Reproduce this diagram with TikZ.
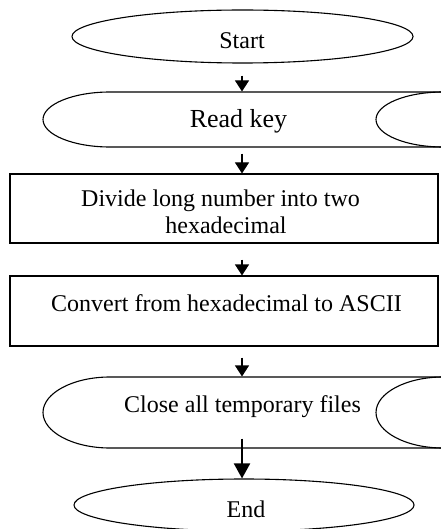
\documentclass[tikz,border=0pt]{standalone}
\usepackage{fontspec}
\setmainfont{Liberation Serif}
\usetikzlibrary{shapes.geometric,arrows.meta,calc}
\begin{document}
\begin{tikzpicture}[x=1pt,y=-1pt,line width=1.1pt,
  term/.style={draw, ellipse, minimum width=341pt, minimum height=53pt, inner sep=0pt},
  procbox/.style={draw, rectangle, minimum width=428pt, inner sep=0pt},
  area/.style={inner sep=0pt, minimum width=400pt},
  lbl/.style={font=\fontsize{24}{28}\selectfont, anchor=base, inner sep=0pt},
  arr/.style={-{Triangle[width=14pt,length=11pt]}, line width=1.1pt},
  arrbig/.style={-{Triangle[width=16pt,length=15pt]}, line width=2pt},
]
\useasboundingbox (0,0) rectangle (440,529);
\coordinate (axis) at (242,0);

% Start
\node[term] (start) at (242.5,36.5) {};
\node[lbl] (starttxt) at (242,49) {Start};

% Read key (stored data)
\node[area, minimum height=55pt] (read) at (242,119.5) {};
\draw (445,92) -- (110,92)
  .. controls (73,92) and (43,104.4) .. (43,119.5)
  .. controls (43,134.6) and (73,147) .. (110,147) -- (445,147);
\draw (443,92) .. controls (406,92) and (376,104.4) .. (376,119.5)
  .. controls (376,134.6) and (406,147) .. (443,147);
\node[lbl, font=\fontsize{26}{30}\selectfont] (readtxt) at (238.5,128) {Read key};

% Divide
\node[procbox, minimum height=69pt] (divide) at (224,208.5) {};
\node[lbl] (divtxta) at (220.5,206) {Divide long number into two};
\node[lbl] (divtxtb) at (226,233) {hexadecimal};

% Convert
\node[procbox, minimum height=70pt] (convert) at (224,311) {};
\node[lbl] (convtxt) at (226.5,311.7) {Convert from hexadecimal to ASCII};

% Close (stored data)
\node[area, minimum height=71pt] (close) at (242,412.5) {};
\draw (445,377) -- (110,377)
  .. controls (73,377) and (43,393) .. (43,412.5)
  .. controls (43,432) and (73,448) .. (110,448) -- (445,448);
\draw (443,377) .. controls (406,377) and (376,393) .. (376,412.5)
  .. controls (376,432) and (406,448) .. (443,448);
\node[lbl] (closetxt) at (242.5,412) {Close all temporary files};

% End
\node[term, minimum width=340pt, minimum height=52pt] (end) at (244,505) {};
\node[lbl] (endtxt) at (246,517) {End};

% Connectors
\draw[arr] ($(start.south -| axis)+(0,12)$) -- (read.north -| axis);
\draw[arr] ($(read.south -| axis)+(0,6)$) -- (divide.north -| axis);
\draw[arr] ($(divide.south -| axis)+(0,16)$) -- (convert.north -| axis);
\draw[arr] ($(convert.south -| axis)+(0,11)$) -- (close.north -| axis);
\draw[arrbig] ($(close.south -| axis)+(0,-10)$) -- (end.north -| axis);
\end{tikzpicture}
\end{document}
